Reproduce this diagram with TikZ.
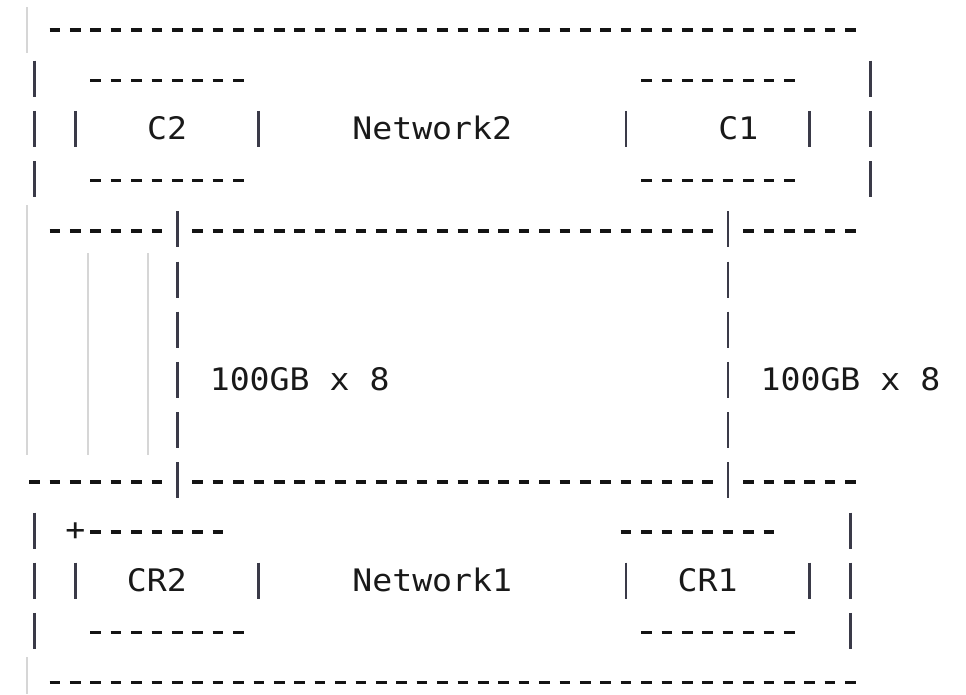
\documentclass[tikz,border=0pt]{standalone}
\usepackage{fontspec}
\newfontfamily\monof[FakeStretch=1.07]{DejaVu Sans Mono}
\definecolor{dashcol}{RGB}{20,20,20}
\definecolor{barcol}{RGB}{58,58,72}
\definecolor{guidecol}{RGB}{214,214,214}
\definecolor{txtcol}{RGB}{25,25,25}
\newcommand\dashrun[3]{\foreach \q in {#2,...,#3}{\draw[dashseg] ({cx(\q)-5.35},{ry(#1)+1.5}) -- ++(10.7,0);}}
\newcommand\vbarat[2]{\draw[vbar] ({cx(#2)},{ry(#1)-18}) -- ++(0,36);}
\begin{document}
\begin{tikzpicture}[x=1pt,y=-1pt,
  declare function={cx(\n)=54.85+20.4*\n; ry(\m)=28.5+50.2*(\m-1);},
  dashseg/.style={line width=3.4pt, dashcol},
  vbar/.style={line width=2.8pt, barcol},
  guide/.style={line width=1.6pt, guidecol},
  lbl/.style={font=\monof\fontsize{31}{31}\selectfont, inner sep=0pt, anchor=base, text=txtcol}]
\fill[white] (0,0) rectangle (966,694);
\useasboundingbox (0,0) rectangle (966,694);
% editor indent guides
\draw[guide] (27,7) -- (27,53);
\draw[guide] (27,205) -- (27,455);
\draw[guide] (88,253) -- (88,455);
\draw[guide] (148,253) -- (148,455);
\draw[guide] (27,657) -- (27,694);
% row 1
\dashrun{1}{0}{39}
% row 2
\vbarat{2}{-1} \dashrun{2}{2}{9} \dashrun{2}{29}{36} \vbarat{2}{40}
% row 3
\vbarat{3}{-1} \vbarat{3}{1} \vbarat{3}{10} \vbarat{3}{28} \vbarat{3}{37} \vbarat{3}{40}
\node[lbl] (c2) at ({cx(5.5)},{ry(3)+11}) {C2};
\node[lbl] (net2) at ({cx(18.5)},{ry(3)+11}) {Network2};
\node[lbl] (c1) at ({cx(33.5)},{ry(3)+11}) {C1};
% row 4
\vbarat{4}{-1} \dashrun{4}{2}{9} \dashrun{4}{29}{36} \vbarat{4}{40}
% row 5
\dashrun{5}{0}{5} \vbarat{5}{6} \dashrun{5}{7}{32} \vbarat{5}{33} \dashrun{5}{34}{39}
% rows 6-9
\foreach \r in {6,...,9}{\vbarat{\r}{6} \vbarat{\r}{33}}
\node[lbl] (bwl) at ({cx(12)},{ry(8)+11}) {100GB x 8};
\node[lbl] (bwr) at ({cx(39)},{ry(8)+11}) {100GB x 8};
% row 10
\dashrun{10}{-1}{5} \vbarat{10}{6} \dashrun{10}{7}{32} \vbarat{10}{33} \dashrun{10}{34}{39}
% row 11
\vbarat{11}{-1}
\node[font=\monof\fontsize{31}{31}\selectfont, inner sep=0pt, text=txtcol] (plus) at ({cx(1)},{ry(11)+1.5}) {+};
\dashrun{11}{2}{8} \dashrun{11}{28}{35} \vbarat{11}{39}
% row 12
\vbarat{12}{-1} \vbarat{12}{1} \vbarat{12}{10} \vbarat{12}{28} \vbarat{12}{37} \vbarat{12}{39}
\node[lbl] (cr2) at ({cx(5)},{ry(12)+11}) {CR2};
\node[lbl] (net1) at ({cx(18.5)},{ry(12)+11}) {Network1};
\node[lbl] (cr1) at ({cx(32)},{ry(12)+11}) {CR1};
% row 13
\vbarat{13}{-1} \dashrun{13}{2}{9} \dashrun{13}{29}{36} \vbarat{13}{39}
% row 14
\dashrun{14}{0}{39}
\end{tikzpicture}
\end{document}
